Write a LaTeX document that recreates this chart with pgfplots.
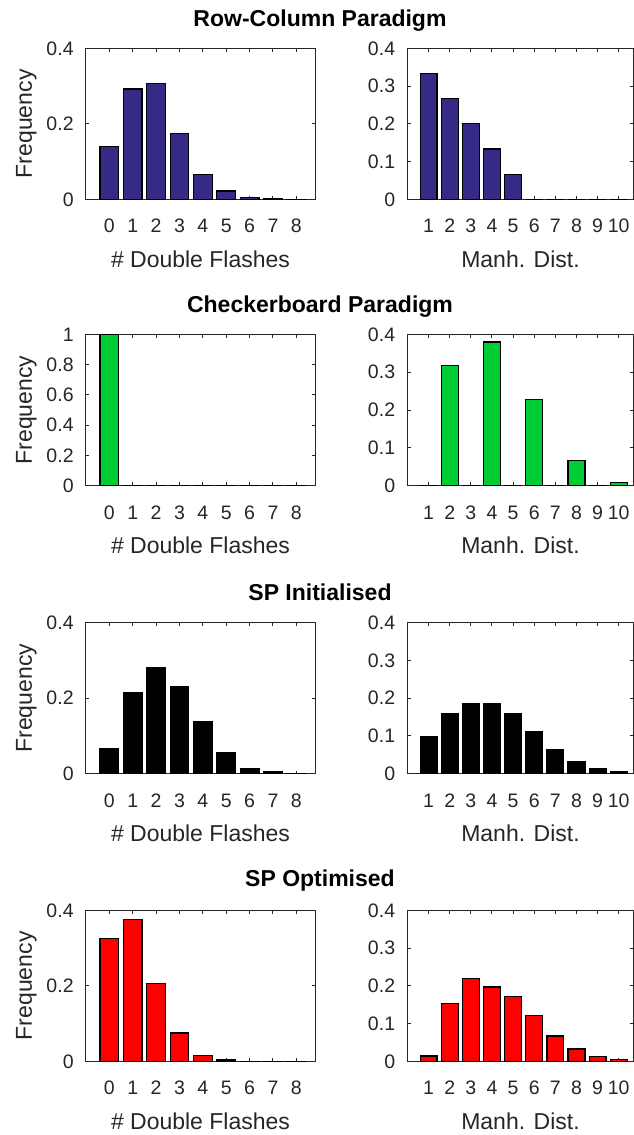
\documentclass[border=0pt]{standalone}
\usepackage{fontspec}
\setmainfont{Liberation Sans}
\usepackage{pgfplots}
\pgfplotsset{compat=1.18}

\definecolor{axgray}{gray}{0.15}
\definecolor{rcblue}{RGB}{53,42,134}
\definecolor{cbgreen}{RGB}{0,204,51}
\definecolor{spred}{RGB}{255,0,0}

\pgfplotsset{
  hist/.style={
    scale only axis, height=75.5pt, ymin=0,
    ybar, bar width=0.8,
    axis line style={axgray, line width=0.5pt},
    tick style={axgray, line width=0.5pt},
    major tick length=1.6pt,
    tick align=inside,
    /pgf/number format/assume math mode=true,
    tick label style={font=\fontsize{9.75}{11}\selectfont, text=axgray},
    xticklabel style={anchor=base, inner sep=0pt, yshift=-16.8pt},
    yticklabel style={anchor=east, inner sep=0pt, xshift=-6pt},
    label style={font=\fontsize{11.5}{13}\selectfont, text=axgray},
    xlabel style={at={(axis description cs:0.5,0)}, anchor=base, yshift=-34pt},
    anchor=north west,
  },
  flashes/.style={hist, width=114.5pt, xmin=-1, xmax=8.8, xtick={0,...,8},
    xlabel={\# Double Flashes}, ylabel={Frequency},
    ylabel style={at={(axis description cs:0,0.5)}, anchor=base, yshift=27pt}},
  manh/.style={hist, width=113pt, xmin=0, xmax=10.7, xtick={1,...,10},
    xlabel={Manh. Dist.}, ymax=0.4, ytick={0,0.1,0.2,0.3,0.4}},
  bars/.style={fill=#1, draw=black, line width=0.6pt},
}

\begin{document}
\begin{tikzpicture}
\tikzset{ttl/.style={font=\fontsize{11.5}{13}\selectfont\bfseries, anchor=base}}

% Row-Column paradigm
\node[ttl] at (160pt,-13.35pt) {Row-Column Paradigm};
\begin{axis}[flashes, at={(43pt,-24.15pt)}, ymax=0.4, ytick={0,0.2,0.4}]
  \addplot[bars=rcblue] coordinates {(0,0.140) (1,0.292) (2,0.306) (3,0.175) (4,0.0665) (5,0.022) (6,0.0045) (7,0.001) (8,0.0003)};
\end{axis}
\begin{axis}[manh, at={(203.75pt,-24.15pt)}]
  \addplot[bars=rcblue] coordinates {(1,0.3333) (2,0.2667) (3,0.2) (4,0.1333) (5,0.0667) (6,0) (7,0) (8,0) (9,0) (10,0)};
\end{axis}

% Checkerboard paradigm
\node[ttl] at (160pt,-156.35pt) {Checkerboard Paradigm};
\begin{axis}[flashes, at={(43pt,-167.25pt)}, ymax=1, ytick={0,0.2,0.4,0.6,0.8,1}]
  \addplot[bars=cbgreen] coordinates {(0,1) (1,0) (2,0) (3,0) (4,0) (5,0) (6,0) (7,0) (8,0)};
\end{axis}
\begin{axis}[manh, at={(203.75pt,-167.25pt)}]
  \addplot[bars=cbgreen] coordinates {(1,0) (2,0.3186) (3,0) (4,0.380) (5,0) (6,0.2285) (7,0) (8,0.0656) (9,0) (10,0.007)};
\end{axis}

% SP initialised
\node[ttl] at (160pt,-300.35pt) {SP Initialised};
\begin{axis}[flashes, at={(43pt,-311.35pt)}, ymax=0.4, ytick={0,0.2,0.4}]
  \addplot[bars=black] coordinates {(0,0.0668) (1,0.2145) (2,0.282) (3,0.2295) (4,0.138) (5,0.057) (6,0.013) (7,0.0044) (8,0.0015)};
\end{axis}
\begin{axis}[manh, at={(203.75pt,-311.35pt)}]
  \addplot[bars=black] coordinates {(1,0.0989) (2,0.158) (3,0.1863) (4,0.1845) (5,0.158) (6,0.1113) (7,0.0636) (8,0.0318) (9,0.0132) (10,0.0044)};
\end{axis}

% SP optimised
\node[ttl] at (160pt,-443.35pt) {SP Optimised};
\begin{axis}[flashes, at={(43pt,-455.15pt)}, ymax=0.4, ytick={0,0.2,0.4}]
  \addplot[bars=spred] coordinates {(0,0.326) (1,0.376) (2,0.2058) (3,0.0748) (4,0.016) (5,0.0036) (6,0.0005) (7,0.0002) (8,0.0001)};
\end{axis}
\begin{axis}[manh, at={(203.75pt,-455.15pt)}]
  \addplot[bars=spred] coordinates {(1,0.0142) (2,0.154) (3,0.2186) (4,0.197) (5,0.1708) (6,0.1204) (7,0.0673) (8,0.0327) (9,0.0133) (10,0.0044)};
\end{axis}

\pgfresetboundingbox
\useasboundingbox (0,0) rectangle (316.5pt,-567.5pt);
\end{tikzpicture}
\end{document}
